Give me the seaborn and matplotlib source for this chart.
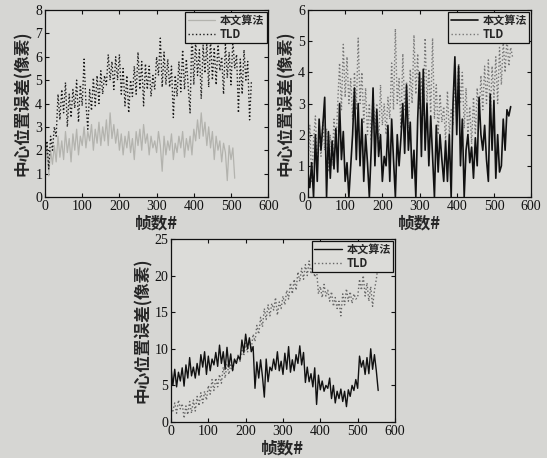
import numpy as np
import pandas as pd
import matplotlib
matplotlib.use("Agg")
import matplotlib.pyplot as plt
import seaborn as sns

# ---- data (every 5 frames) ----
FRAMES = list(range(0, 560, 5))

# panel 1
P1_OURS = [1.2, 2.3, 0.9, 2.0, 1.4, 2.2, 1.5, 2.6, 1.7, 2.4, 1.6, 2.8, 1.9, 2.5, 1.5, 2.7,
           2.0, 2.9, 1.8, 2.6, 2.2, 3.0, 2.1, 2.8, 2.4, 3.1, 2.0, 2.9, 2.3, 3.2, 2.2, 3.0,
           2.4, 3.3, 2.2, 3.6, 2.5, 3.1, 2.3, 2.9, 2.0, 2.7, 1.8, 2.6, 2.1, 2.8, 1.9, 2.5,
           1.6, 2.8, 2.2, 2.9, 2.0, 3.1, 2.3, 2.7, 1.8, 2.6, 2.1, 2.4, 1.9, 2.8, 2.2, 1.1,
           2.6, 1.8, 2.4, 2.0, 2.7, 1.6, 2.3, 1.9, 2.6, 2.1, 2.8, 1.7, 2.5, 2.0, 2.6, 1.8,
           2.9, 2.4, 3.3, 2.5, 3.6, 2.6, 3.2, 2.2, 3.0, 2.1, 2.8, 1.6, 2.6, 2.0, 2.4, 1.5,
           2.3, 1.9, 0.7, 2.2, 1.6, 2.1, 0.8]
P1_TLD = [1.5, 2.4, 1.2, 2.6, 2.0, 3.0, 2.6, 4.4, 3.3, 4.6, 3.6, 4.9, 3.0, 4.4, 3.4, 4.6,
          3.8, 5.0, 3.2, 4.8, 3.9, 5.9, 4.0, 2.9, 4.6, 3.7, 5.1, 3.9, 5.2, 4.0, 5.4, 4.4,
          5.2, 4.8, 6.1, 5.0, 5.8, 4.6, 6.0, 5.0, 6.1, 4.4, 5.5, 3.9, 5.2, 3.6, 5.0, 4.3,
          5.6, 4.4, 6.2, 4.6, 5.8, 3.9, 5.7, 4.6, 5.6, 4.3, 5.2, 4.6, 6.0, 5.2, 6.8, 4.7,
          6.2, 4.8, 5.9, 4.7, 5.6, 3.4, 5.2, 4.3, 5.8, 4.5, 6.3, 4.6, 5.9, 4.7, 3.6, 7.2,
          4.8, 6.7, 5.2, 6.3, 4.2, 6.5, 5.3, 6.6, 4.7, 6.8, 5.0, 6.4, 4.8, 6.6, 5.4, 6.0,
          4.4, 6.6, 5.1, 6.2, 4.8, 6.7, 5.5, 6.1, 3.6, 5.9, 4.4, 6.3, 5.0, 5.8, 3.3, 5.0]

# panel 2
P2_OURS = [0.8, 0.3, 1.1, 0.0, 2.0, 0.5, 2.5, 1.5, 2.3, 3.2, 0.0, 2.1, 0.6, 1.8, 0.9, 2.2,
           0.8, 3.0, 1.2, 2.1, 0.5, 1.1, 0.0, 1.0, 2.0, 3.5, 1.2, 3.0, 1.0, 2.5, 0.5, 2.0,
           1.1, 0.0, 1.5, 3.5, 1.0, 2.8, 1.3, 2.0, 0.5, 1.3, 1.0, 2.3, 0.5, 2.5, 1.2, 0.0,
           2.0, 1.0, 1.9, 3.0, 1.4, 3.6, 1.5, 2.4, 0.6, 1.5, 0.0, 2.5, 4.0, 1.3, 4.1, 1.5,
           3.0, 1.0, 2.6, 1.3, 0.0, 2.3, 0.8, 2.0, 1.2, 0.5, 1.8, 0.5, 2.0, 0.0, 3.0, 4.5,
           2.0, 4.2, 1.0, 2.5, 0.0, 1.5, 2.0, 1.1, 1.6, 0.6, 1.9, 1.0, 3.2, 2.0, 1.5, 2.3,
           1.2, 0.5, 3.3, 1.5, 3.1, 0.6, 2.0, 0.8, 1.0, 2.5, 1.5, 2.8, 2.6, 2.9]
P2_TLD = [1.0, 2.3, 0.5, 1.8, 2.6, 1.0, 2.0, 1.3, 2.4, 1.5, 2.2, 0.8, 2.0, 1.0, 2.5, 1.6,
          3.0, 4.3, 2.8, 4.9, 3.2, 4.5, 3.0, 3.8, 2.5, 4.0, 2.8, 5.1, 3.0, 4.0, 2.4, 3.5,
          2.0, 3.0, 1.8, 3.3, 2.2, 3.0, 1.6, 3.6, 2.3, 3.0, 2.0, 3.2, 2.5, 4.3, 2.8, 5.4,
          3.0, 3.8, 2.2, 4.6, 2.8, 3.7, 2.2, 4.1, 3.0, 5.2, 3.3, 4.6, 2.8, 3.8, 2.6, 5.1,
          3.0, 4.1, 2.7, 5.1, 2.5, 3.6, 2.0, 3.3, 2.4, 2.9, 1.8, 3.4, 2.0, 2.8, 2.3, 3.8,
          2.6, 4.3, 3.0, 4.0, 2.2, 3.5, 2.0, 2.9, 1.7, 3.2, 2.0, 3.5, 2.5, 3.9, 2.8, 4.2,
          3.0, 4.4, 2.6, 4.2, 3.2, 4.5, 3.0, 4.8, 3.6, 5.0, 4.0, 5.1, 4.2, 4.8, 4.5]

# panel 3
P3_OURS = [7.5, 5.0, 7.2, 4.8, 6.8, 5.6, 7.4, 4.9, 7.8, 6.0, 8.8, 6.3, 7.5, 6.0, 8.0, 6.4,
           9.2, 7.5, 9.6, 6.5, 9.0, 7.0, 8.6, 7.8, 9.5, 7.6, 10.5, 8.0, 9.6, 7.2, 10.2, 7.5,
           9.3, 7.0, 8.6, 8.0, 9.0, 8.5, 11.2, 9.5, 12.0, 10.0, 11.5, 9.6, 10.3, 4.6, 8.2, 6.0,
           8.5, 6.2, 3.4, 8.6, 5.5, 7.5, 7.0, 8.6, 7.2, 9.6, 7.0, 8.3, 6.5, 9.4, 7.2, 10.3,
           6.8, 8.5, 7.0, 9.2, 8.0, 10.4, 7.8, 9.5, 5.4, 7.5, 5.5, 6.6, 4.8, 7.4, 2.4, 6.4,
           4.4, 5.6, 4.2, 5.0, 4.6, 6.0, 3.2, 5.0, 2.6, 4.2, 3.2, 4.5, 2.8, 4.2, 2.1, 4.4,
           3.5, 5.0, 4.3, 5.8, 4.6, 9.0, 7.5, 8.4, 6.5, 8.8, 6.6, 10.0, 7.2, 9.2, 7.0, 4.3]
P3_TLD = [2.0, 1.5, 2.6, 1.2, 3.0, 1.8, 2.5, 0.5, 2.2, 1.0, 2.8, 1.2, 3.0, 1.5, 3.5, 2.2,
          4.0, 2.6, 4.2, 3.0, 5.0, 3.8, 5.8, 4.3, 6.0, 4.8, 6.5, 5.3, 7.5, 6.0, 8.0, 6.5,
          7.8, 7.0, 8.5, 8.0, 9.2, 8.3, 10.0, 9.0, 10.8, 9.5, 11.2, 10.0, 12.0, 11.0, 13.2, 12.0,
          14.3, 13.0, 15.5, 14.0, 16.0, 14.5, 16.2, 15.3, 17.0, 14.6, 16.4, 15.5, 17.2, 16.0, 18.0, 16.8,
          19.0, 17.5, 19.5, 18.0, 20.5, 19.2, 21.0, 19.5, 21.5, 20.0, 22.0, 20.2, 21.5, 19.8, 20.8, 17.5,
          18.5, 17.0, 18.8, 17.2, 18.0, 16.5, 17.8, 15.8, 17.0, 15.5, 16.5, 14.5, 17.5, 16.0, 18.2, 16.5,
          17.8, 16.2, 17.5, 16.8, 17.0, 19.5, 18.0, 20.0, 17.2, 19.0, 16.5, 18.5, 15.8, 18.0, 19.5, 21.5]

YMAX = [8, 6, 25]
YSTEP = [1, 1, 5]
LEGEND_LABELS = ["本文算法", "TLD"]
XLABEL = "帧数#"
YLABEL = "中心位置误差(像素)"

sns.set_theme(style="ticks")
plt.rcParams['font.family'] = ['Liberation Serif', 'DejaVu Serif']
plt.rcParams['xtick.direction'] = 'in'
plt.rcParams['ytick.direction'] = 'in'

BG = "#d6d6d3"
AX_BG = "#dcdcd9"
CJK = ['Noto Sans CJK SC', 'DejaVu Sans']

fig = plt.figure(figsize=(5.47, 4.58), dpi=100, facecolor=BG)
rects = [
    [0.0823, 0.570, 0.408, 0.408],
    [0.563, 0.570, 0.408, 0.408],
    [0.3126, 0.0786, 0.4095, 0.3996],
]
panels = [
    (P1_OURS, P1_TLD, "#b3b3ae", "#1a1a1a", 0.9),
    (P2_OURS, P2_TLD, "#111111", "#777777", 1.2),
    (P3_OURS, P3_TLD, "#111111", "#666666", 1.0),
]

for i, (rect, (ours, tld, c_ours, c_tld, lw)) in enumerate(zip(rects, panels)):
    ax = fig.add_axes(rect)
    ax.set_facecolor(AX_BG)
    df_o = pd.DataFrame({"frame": FRAMES[:len(ours)], "err": ours})
    df_t = pd.DataFrame({"frame": FRAMES[:len(tld)], "err": tld})
    if i == 0:
        # light solid line sits under the dark dotted TLD curve
        sns.lineplot(data=df_o, x="frame", y="err", ax=ax, color=c_ours, lw=lw,
                     estimator=None, sort=False, label=LEGEND_LABELS[0])
        sns.lineplot(data=df_t, x="frame", y="err", ax=ax, color=c_tld, lw=1.0,
                     linestyle=':', estimator=None, sort=False, label=LEGEND_LABELS[1])
    else:
        sns.lineplot(data=df_t, x="frame", y="err", ax=ax, color=c_tld, lw=1.0,
                     linestyle=':', estimator=None, sort=False, label=LEGEND_LABELS[1])
        sns.lineplot(data=df_o, x="frame", y="err", ax=ax, color=c_ours, lw=lw,
                     estimator=None, sort=False, label=LEGEND_LABELS[0])
    ax.set_xlim(0, 600)
    ax.set_ylim(0, YMAX[i])
    ax.set_xticks(range(0, 601, 100))
    ax.set_yticks(np.arange(0, YMAX[i] + 0.1, YSTEP[i]))
    ax.tick_params(top=True, right=True, length=3, width=0.8, labelsize=10, pad=2,
                   colors="#111111")
    for s in ax.spines.values():
        s.set_color("#111111")
        s.set_linewidth(0.9)
    ax.set_xlabel(XLABEL, family=CJK, fontsize=12, fontweight='bold', labelpad=1)
    ax.set_ylabel(YLABEL, family=CJK, fontsize=12, fontweight='bold', labelpad=2)

    handles, labels = ax.get_legend_handles_labels()
    order = [labels.index(l) for l in LEGEND_LABELS]
    leg = ax.legend([handles[k] for k in order], [labels[k] for k in order],
                    loc='upper right', fancybox=False, frameon=True, edgecolor="#111111",
                    facecolor=AX_BG, framealpha=1, borderaxespad=0.15, borderpad=0.2,
                    labelspacing=0.1, handlelength=2.5, handletextpad=0.4,
                    prop={'family': CJK + ['Liberation Serif'], 'size': 8, 'weight': 'bold'})
    leg.get_frame().set_linewidth(0.9)

fig.savefig("out.png", dpi=100, facecolor=BG)
